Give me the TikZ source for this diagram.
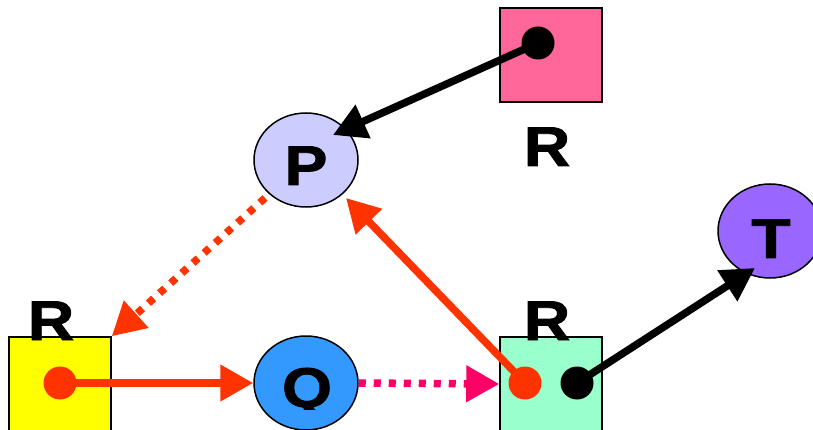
\documentclass[tikz,border=0pt]{standalone}
\usepackage{fontspec}
\setmainfont{Liberation Sans}[FakeStretch=1.15,BoldFeatures={FakeBold=1.5}]
\usetikzlibrary{arrows.meta,shapes.geometric,calc}
\definecolor{pinkbox}{HTML}{FF6699}
\definecolor{pfill}{HTML}{CCCCFF}
\definecolor{tfill}{HTML}{9966FF}
\definecolor{qfill}{HTML}{3399FF}
\definecolor{yfill}{HTML}{FFFF00}
\definecolor{gfill}{HTML}{99FFCC}
\definecolor{orangeC}{HTML}{FF3300}
\definecolor{pinkC}{HTML}{FF0066}
\begin{document}
\begin{tikzpicture}[x=1pt,y=-1pt,
  boxR/.style={rectangle,draw=black,line width=1.5pt,minimum width=102pt,minimum height=94pt,inner sep=0pt},
  ell/.style={ellipse,draw=black,line width=1.5pt,minimum width=104pt,minimum height=94pt,inner sep=0pt},
  lbl/.style={font=\fontsize{56}{56}\selectfont\bfseries,anchor=base,inner sep=0pt},
  dotn/.style={circle,minimum size=33pt,inner sep=0pt},
  conn/.style={line width=7.5pt,-{Triangle[length=33pt,width=35pt]}},
  dotted conn/.style={conn,dash pattern=on 7pt off 8pt}]
\useasboundingbox (0,0) rectangle (813,430);
\clip (0,0) rectangle (813,430);
% boxes
\node[boxR,fill=pinkbox] (B) at (551,55) {};
\node[boxR,fill=yfill] (Y) at (60,384) {};
\node[boxR,fill=gfill] (G) at (551,384) {};
% labels
\node[lbl] (rb) at (547,166) {R};
\node[lbl] (ry) at (51,340) {R};
\node[lbl] (rg) at (547,340) {R};
% ellipses
\node[ell,fill=pfill] (P) at (306,160) {};
\node[ell,fill=tfill] (T) at (770,231) {};
\node[ell,fill=qfill] (Q) at (306,383) {};
\node[lbl] (pt) at (306,185) {P};
\node[lbl] (tt) at (771,258) {T};
\begin{scope}
\clip (240,300) rectangle (380,409);
\node[lbl] (qt) at (307,407) {Q};
\end{scope}
% dot centres
\coordinate (bd) at (538,43);
\coordinate (yd) at (60,383);
\coordinate (go) at (525,383);
\coordinate (gb) at (577,383);
% connectors
\draw[conn,black] (bd) -- ($(P.center)+(27,-25)$);
\draw[dotted conn,orangeC] ($(P.center)+(-41,38)$) -- (Y.north east);
\draw[conn,orangeC] (yd) -- (Q.west);
\draw[dotted conn,pinkC] (Q.east) -- (G.west);
\draw[conn,orangeC] (go) -- ($(P.center)+(40,38)$);
\draw[conn,black] (gb) -- ($(T.center)+(-15,37)$);
% dots
\node[dotn,fill=black] (bdn) at (bd) {};
\node[dotn,fill=orangeC] (ydn) at (yd) {};
\node[dotn,fill=orangeC] (gon) at (go) {};
\node[dotn,fill=black] (gbn) at (gb) {};
\end{tikzpicture}
\end{document}
